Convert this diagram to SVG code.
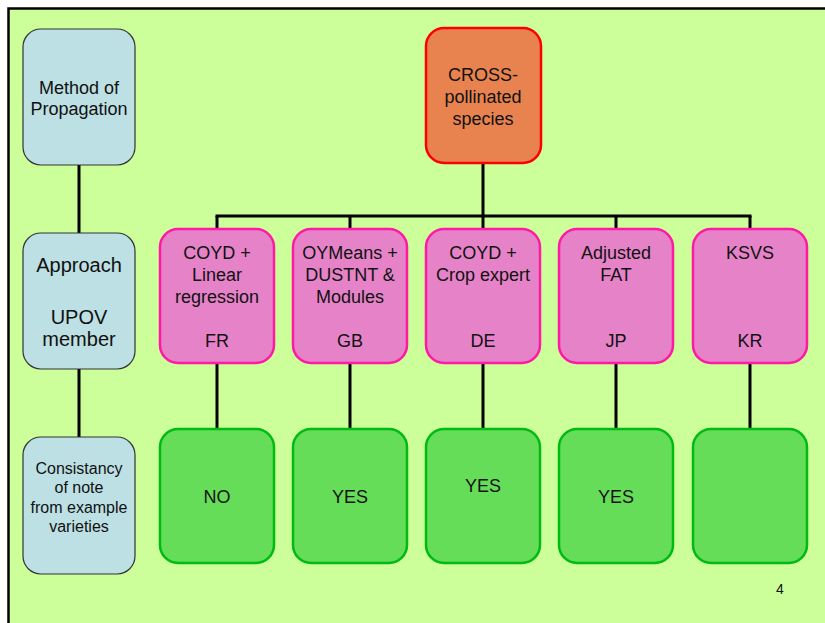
<svg xmlns="http://www.w3.org/2000/svg" width="825" height="623" viewBox="0 0 825 623">
<style>
text{font-family:"Liberation Sans",Arial,sans-serif;fill:#111;text-anchor:middle}
.blue{fill:#bce0e4;stroke:#333;stroke-width:1.2}
.orange{fill:#e8834f;stroke:#ff0000;stroke-width:2.5}
.pink{fill:#e683c8;stroke:#ff1aa6;stroke-width:2.5}
.green{fill:#66dd58;stroke:#00bb11;stroke-width:2.5}
.conn line{stroke:#000;stroke-width:3}
.t18{font-size:18px}
.t20{font-size:20px}
.t16{font-size:16px}
</style>
<rect x="0" y="0" width="825" height="623" fill="#ffffff"/>
<rect x="8.5" y="8.5" width="840" height="640" fill="#ccff99" stroke="#000" stroke-width="2.5"/>
<g id="connectors" class="conn">
<line x1="79" y1="165" x2="79" y2="233"/>
<line x1="79" y1="369" x2="79" y2="437"/>
<line x1="483" y1="163" x2="483" y2="216"/>
<line x1="215.5" y1="216" x2="751.5" y2="216"/>
<line x1="217" y1="216" x2="217" y2="229"/>
<line x1="350" y1="216" x2="350" y2="229"/>
<line x1="483" y1="216" x2="483" y2="229"/>
<line x1="616" y1="216" x2="616" y2="229"/>
<line x1="750" y1="216" x2="750" y2="229"/>
<line x1="217" y1="363" x2="217" y2="429"/>
<line x1="350" y1="363" x2="350" y2="429"/>
<line x1="483" y1="363" x2="483" y2="429"/>
<line x1="616" y1="363" x2="616" y2="429"/>
<line x1="750" y1="363" x2="750" y2="429"/>
</g>
<g id="method">
<rect class="blue" x="23" y="29" width="112" height="136" rx="18"/>
<text class="t18" x="79" y="94">Method of</text>
<text class="t18" x="79" y="115">Propagation</text>
</g>
<g id="approach">
<rect class="blue" x="23" y="233" width="112" height="136" rx="18"/>
<text class="t20" x="79" y="272">Approach</text>
<text class="t20" x="79" y="324">UPOV</text>
<text class="t20" x="79" y="346">member</text>
</g>
<g id="consistancy">
<rect class="blue" x="23" y="437" width="112" height="137" rx="18"/>
<text class="t16" x="79" y="474">Consistancy</text>
<text class="t16" x="79" y="493">of note</text>
<text class="t16" x="79" y="513">from example</text>
<text class="t16" x="79" y="532">varieties</text>
</g>
<g id="cross">
<rect class="orange" x="426" y="28" width="115" height="135" rx="18"/>
<text class="t18" x="483" y="81">CROSS-</text>
<text class="t18" x="483" y="103">pollinated</text>
<text class="t18" x="483" y="125">species</text>
</g>
<g id="fr">
<rect class="pink" x="160" y="229" width="114" height="134" rx="18"/>
<text class="t18" x="217" y="259">COYD +</text>
<text class="t18" x="217" y="281">Linear</text>
<text class="t18" x="217" y="303">regression</text>
<text class="t18" x="217" y="347">FR</text>
</g>
<g id="gb">
<rect class="pink" x="293" y="229" width="114" height="134" rx="18"/>
<text class="t18" x="350" y="259">OYMeans +</text>
<text class="t18" x="350" y="281">DUSTNT &amp;</text>
<text class="t18" x="350" y="303">Modules</text>
<text class="t18" x="350" y="347">GB</text>
</g>
<g id="de">
<rect class="pink" x="426" y="229" width="114" height="134" rx="18"/>
<text class="t18" x="483" y="259">COYD +</text>
<text class="t18" x="483" y="281">Crop expert</text>
<text class="t18" x="483" y="347">DE</text>
</g>
<g id="jp">
<rect class="pink" x="559" y="229" width="114" height="134" rx="18"/>
<text class="t18" x="616" y="259">Adjusted</text>
<text class="t18" x="616" y="281">FAT</text>
<text class="t18" x="616" y="347">JP</text>
</g>
<g id="kr">
<rect class="pink" x="693" y="229" width="114" height="134" rx="18"/>
<text class="t18" x="750" y="259">KSVS</text>
<text class="t18" x="750" y="347">KR</text>
</g>
<g id="fr-result">
<rect class="green" x="160" y="429" width="114" height="134" rx="18"/>
<text class="t18" x="217" y="503">NO</text>
</g>
<g id="gb-result">
<rect class="green" x="293" y="429" width="114" height="134" rx="18"/>
<text class="t18" x="350" y="503">YES</text>
</g>
<g id="de-result">
<rect class="green" x="426" y="429" width="114" height="134" rx="18"/>
<text class="t18" x="483" y="492">YES</text>
</g>
<g id="jp-result">
<rect class="green" x="559" y="429" width="114" height="134" rx="18"/>
<text class="t18" x="616" y="503">YES</text>
</g>
<g id="kr-result">
<rect class="green" x="693" y="429" width="114" height="134" rx="18"/>
</g>
<text x="780" y="594" style="font-size:14px">4</text>
</svg>
